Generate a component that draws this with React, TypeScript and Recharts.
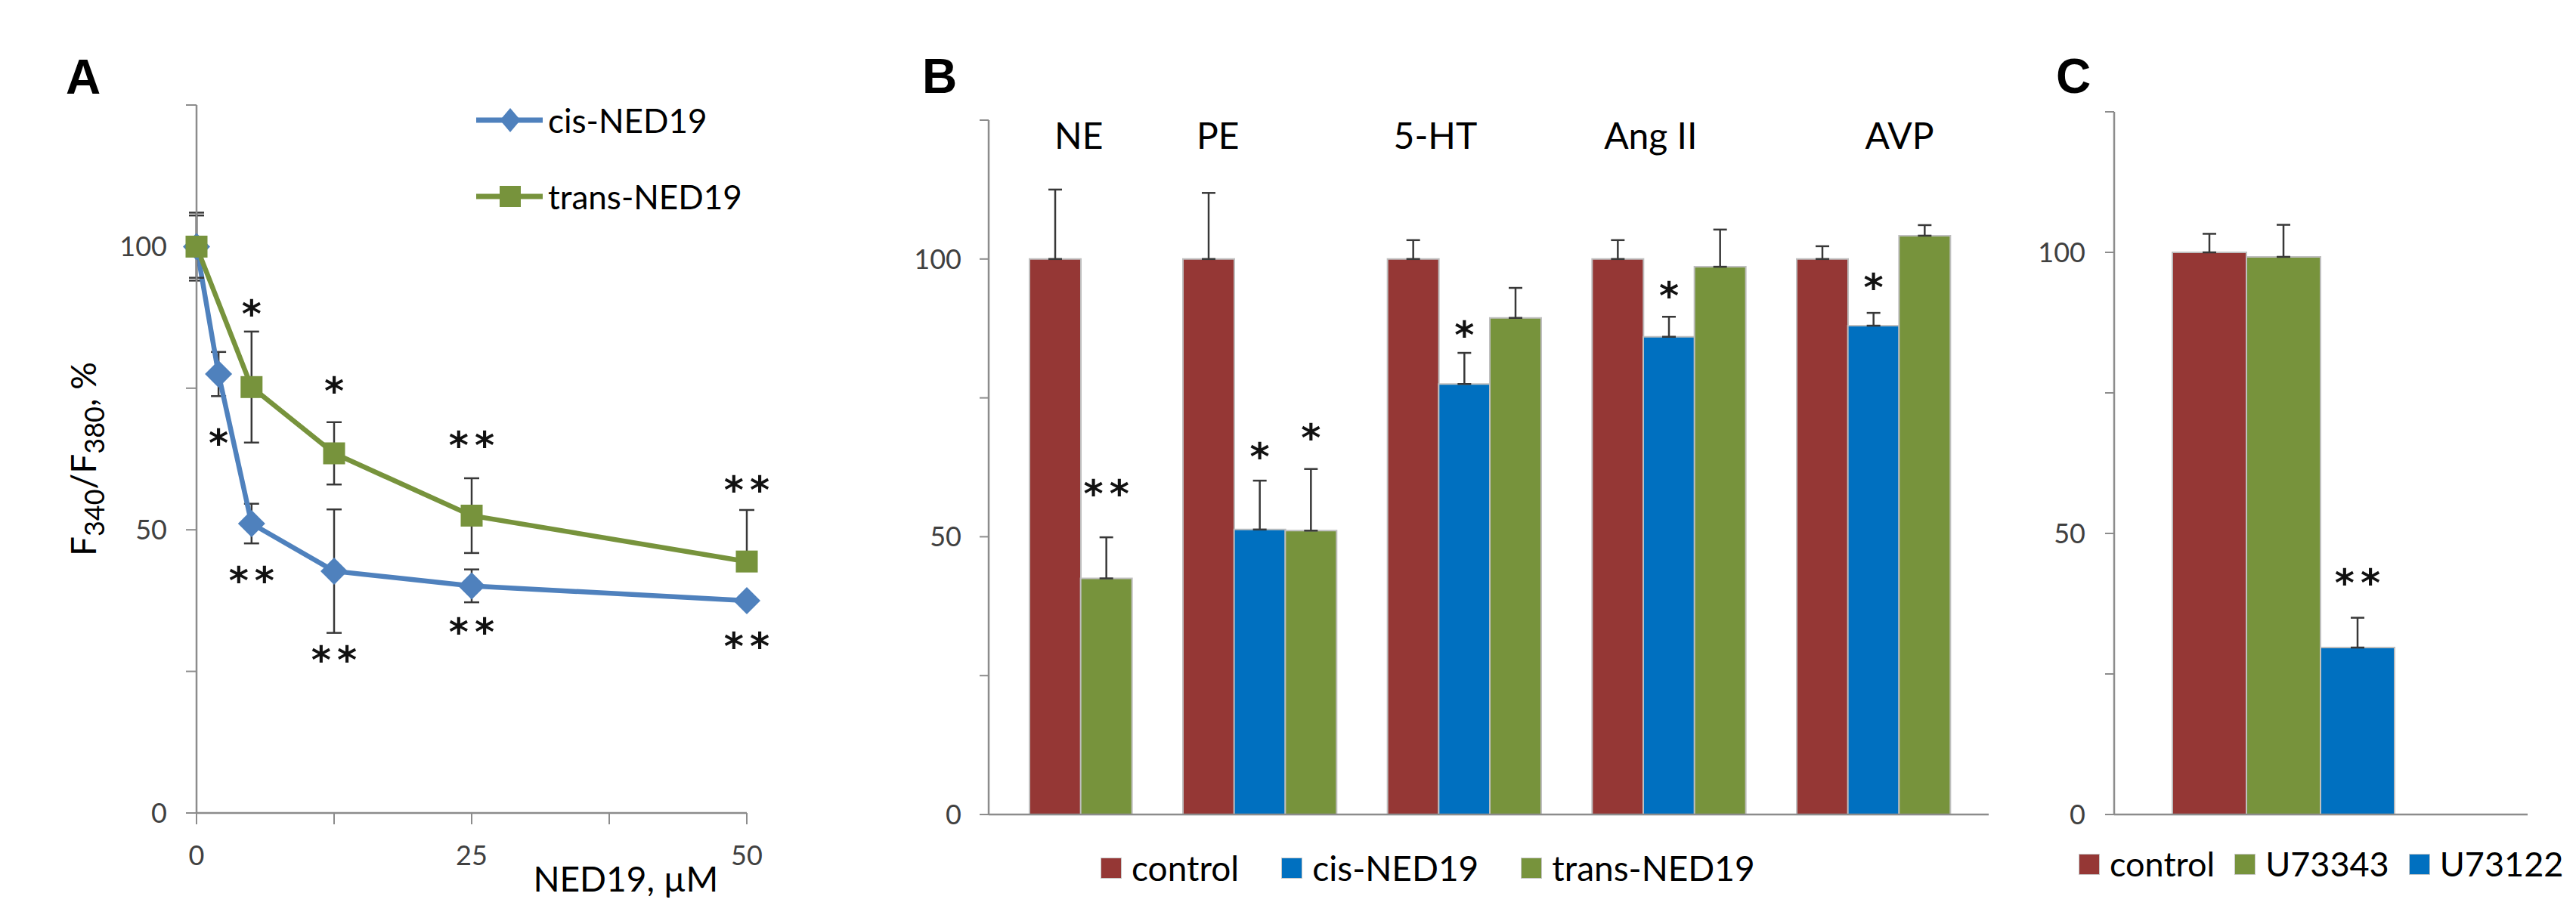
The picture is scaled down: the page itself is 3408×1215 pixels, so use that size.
import React from 'react'
import { ComposedChart, Line, Bar, Scatter, XAxis, YAxis, ErrorBar, Cell, LabelList } from 'recharts'

const RED = '#953735'
const BLUE = '#0070C0'
const GREEN = '#77933C'
const LINE_BLUE = '#4F81BD'
const AXIS = '#8C8C8C'
const ERR = '#383838'
const FONT = 'Lato, "Noto Sans", sans-serif'
const STAR_FONT = '"DejaVu Sans", sans-serif'
const STAR_SIZE = 50

// A: F340/F380 vs NED19 concentration
const DOSE_CIS = [0, 2, 5, 12.5, 25, 50]
const CIS_A = [100, 77.5, 51.1, 42.7, 40.1, 37.5]
const CIS_A_ERR = [6, 3.9, 3.5, 10.9, 2.9, 0]
const CIS_A_STAR = ['', '*', '**', '**', '**', '**']
const CIS_A_STAR_AT = [null, 66.4, 42.1, 28.2, 33.1, 30.6]

const DOSE_TRANS = [0, 5, 12.5, 25, 50]
const TRANS_A = [100, 75.2, 63.5, 52.5, 44.4]
const TRANS_A_ERR_DOWN = [5.5, 9.8, 5.5, 6.6, 0]
const TRANS_A_ERR_UP = [5.5, 9.8, 5.5, 6.6, 9.1]
const TRANS_A_STAR = ['', '*', '*', '**', '**']
const TRANS_A_STAR_AT = [null, 89.2, 75.7, 66.1, 58.2]

const X_TICKS_A = [0, 12.5, 25, 37.5, 50]
const Y_TICKS = [0, 25, 50, 75, 100, 125]

// B: agonists
const CATS_B = ['NE', 'PE', '5-HT', 'Ang II', 'AVP']
const CONTROL_B = [100, 100, 100, 100, 100]
const CONTROL_B_ERR = [12.5, 11.9, 3.4, 3.4, 2.3]
const CIS_B = [null, 51.3, 77.5, 86.0, 88.0]
const CIS_B_ERR = [null, 8.8, 5.6, 3.6, 2.3]
const CIS_B_STAR = ['', '*', '*', '*', '*']
const CIS_B_STAR_AT = [null, 65.6, 87.5, 94.5, 96]
const TRANS_B = [42.5, 51.1, 89.4, 98.6, 104.2]
const TRANS_B_ERR = [7.4, 11.1, 5.4, 6.7, 1.9]
const TRANS_B_STAR = ['**', '*', '', '', '']
const TRANS_B_STAR_AT = [58.9, 69, null, null, null]
// where each agonist name sits, in bar widths from the control bar centre
const CAT_SHIFT_B = [0.46, 0.18, 0.43, 0.64, 1.5]

// C: PLC inhibitor
const GROUPS_C = ['control', 'U73343', 'U73122']
const VALUES_C = [100, 99.2, 29.7]
const ERR_C = [3.3, 5.7, 5.3]
const STAR_C = ['', '', '**']
const STAR_C_AT = [null, null, 42.3]
const COLORS_C = [RED, GREEN, BLUE]

const SERIES_A = [
  { name: 'cis-NED19', color: LINE_BLUE, shape: 'diamond' },
  { name: 'trans-NED19', color: GREEN, shape: 'square' },
]

const SERIES_B = [
  { name: 'control', color: RED, values: CONTROL_B, err: CONTROL_B_ERR, star: [] as string[], starAt: [] as (number | null)[] },
  { name: 'cis-NED19', color: BLUE, values: CIS_B, err: CIS_B_ERR, star: CIS_B_STAR, starAt: CIS_B_STAR_AT },
  { name: 'trans-NED19', color: GREEN, values: TRANS_B, err: TRANS_B_ERR, star: TRANS_B_STAR, starAt: TRANS_B_STAR_AT },
]

const cisRows = DOSE_CIS.map((x, i) => ({ x, v: CIS_A[i], err: CIS_A_ERR[i] }))
const transRows = DOSE_TRANS.map((x, i) => ({ x, v: TRANS_A[i], err: [TRANS_A_ERR_DOWN[i], TRANS_A_ERR_UP[i]] }))
const starRowsA = [
  ...DOSE_CIS.map((x, i) => ({ x, y: CIS_A_STAR_AT[i], text: CIS_A_STAR[i] })),
  ...DOSE_TRANS.map((x, i) => ({ x, y: TRANS_A_STAR_AT[i], text: TRANS_A_STAR[i] })),
].filter((r) => r.text)

// flat table: one band per bar, empty band between agonists
const rowsB: any[] = []
CATS_B.forEach((cat, i) => {
  if (i > 0) rowsB.push({ key: `gap-${i}`, value: null, color: '#fff' })
  let first = true
  SERIES_B.forEach((s) => {
    const v = s.values[i]
    if (v == null) return
    rowsB.push({
      key: `${cat}-${s.name}`,
      value: v,
      err: [0, s.err[i]],
      color: s.color,
      starInfo: s.star[i] ? { text: s.star[i], at: s.starAt[i], v } : null,
      catInfo: first ? { text: cat, shift: CAT_SHIFT_B[i] } : null,
    })
    first = false
  })
})

const rowsC = GROUPS_C.map((g, i) => ({
  key: g,
  value: VALUES_C[i],
  err: [0, ERR_C[i]],
  color: COLORS_C[i],
  starInfo: STAR_C[i] ? { text: STAR_C[i], at: STAR_C_AT[i], v: VALUES_C[i] } : null,
}))

const fmtY = (v: number) => (v % 50 === 0 ? String(v) : '')
const fmtXA = (v: number) => (v % 25 === 0 ? String(v) : '')
const tickStyle = { fontSize: 36, fill: '#404040' }

function Diamond(p: any) {
  const { cx, cy, rx = 18, ry = 18 } = p
  if (cx == null || cy == null) return <g key={`dm-${p.index}`} />
  return <path key={`dm-${p.index}`} d={`M${cx},${cy - ry}L${cx + rx},${cy}L${cx},${cy + ry}L${cx - rx},${cy}Z`} fill={LINE_BLUE} />
}

function Square(p: any) {
  const { cx, cy, half = 14.5 } = p
  if (cx == null || cy == null) return <g key={`sq-${p.index}`} />
  return <rect key={`sq-${p.index}`} x={cx - half} y={cy - half} width={2 * half} height={2 * half} fill={GREEN} />
}

function StarText({ x, y, text }: { x: number; y: number; text: string }) {
  return (
    <text x={x + 4} y={y + 0.52 * STAR_SIZE} textAnchor="middle" fontFamily={STAR_FONT} fontWeight="bold" fontSize={STAR_SIZE} letterSpacing={8} fill="#111">
      {text}
    </text>
  )
}

function ScatterStar(p: any) {
  if (p.cx == null || p.cy == null || !p.payload?.text) return <g />
  return <StarText x={p.cx} y={p.cy} text={p.payload.text} />
}

function BarStar(p: any) {
  const info = p.value
  const vb = p.viewBox
  if (!info || !vb || !info.text) return null
  const px = vb.height / info.v
  const cy = vb.y + vb.height - info.at * px
  return <StarText x={vb.x + vb.width / 2} y={cy} text={info.text} />
}

function CatLabel(p: any) {
  const info = p.value
  const vb = p.viewBox
  if (!info || !vb) return null
  return (
    <text x={vb.x + vb.width * (0.5 + info.shift)} y={197} textAnchor="middle" fontSize={48} fill="#000">
      {info.text}
    </text>
  )
}

function YTitleA(p: any) {
  const vb = p.viewBox
  const cx = vb.x + 127
  const cy = vb.y + vb.height / 2
  return (
    <text transform={`rotate(-90 ${cx} ${cy})`} x={cx} y={cy} textAnchor="middle" fontSize={46} fill="#000">
      F<tspan fontSize={36} dy={11}>340</tspan>
      <tspan dy={-11}>/F</tspan>
      <tspan fontSize={36} dy={11}>380</tspan>
      <tspan dy={-11}>, %</tspan>
    </text>
  )
}

function XTitleA(p: any) {
  const vb = p.viewBox
  return (
    <text x={vb.x + 0.78 * vb.width} y={vb.y + 104} textAnchor="middle" fontSize={46} fill="#000">
      NED19, µM
    </text>
  )
}

function LegendA() {
  return (
    <div style={{ position: 'absolute', left: 630, top: 137, fontSize: 44, color: '#000' }}>
      {SERIES_A.map((s, i) => (
        <div key={s.name} style={{ display: 'flex', alignItems: 'center', height: 44, marginBottom: i === 0 ? 57 : 0 }}>
          <svg width={88} height={44}>
            <line x1={0} y1={22} x2={88} y2={22} stroke={s.color} strokeWidth={7} />
            {s.shape === 'diamond' ? <Diamond cx={45} cy={22} rx={13.5} ry={16} /> : <Square cx={45} cy={22} half={14} />}
          </svg>
          <span style={{ marginLeft: 7, lineHeight: 1 }}>{s.name}</span>
        </div>
      ))}
    </div>
  )
}

function BoxLegend({ items, left, top, gap, fontSize }: { items: { name: string; color: string }[]; left: number; top: number; gap: number; fontSize: number }) {
  return (
    <div style={{ position: 'absolute', left, top, display: 'flex', alignItems: 'center', fontSize, color: '#000', lineHeight: 1 }}>
      {items.map((it) => (
        <div key={it.name} style={{ display: 'flex', alignItems: 'center', marginRight: gap }}>
          <div style={{ width: 28, height: 28, background: it.color, boxShadow: 'inset 0 0 0 1px #c8c8c8' }} />
          <span style={{ marginLeft: 13 }}>{it.name}</span>
        </div>
      ))}
    </div>
  )
}

function ChartA() {
  return (
    <div style={{ position: 'absolute', left: 0, top: 0 }}>
      <ComposedChart width={1200} height={1215} margin={{ top: 139, right: 212, bottom: 79, left: 0 }}>
        <XAxis
          dataKey="x"
          type="number"
          domain={[0, 50]}
          ticks={X_TICKS_A}
          tickFormatter={fmtXA}
          tick={tickStyle}
          tickSize={15}
          tickMargin={28}
          height={60}
          axisLine={{ stroke: AXIS, strokeWidth: 2.5 }}
          tickLine={{ stroke: AXIS, strokeWidth: 2 }}
          label={{ content: XTitleA }}
        />
        <YAxis
          type="number"
          domain={[0, 125]}
          ticks={Y_TICKS}
          tickFormatter={fmtY}
          tick={tickStyle}
          tickSize={14}
          tickMargin={25}
          width={260}
          axisLine={{ stroke: AXIS, strokeWidth: 2.5 }}
          tickLine={{ stroke: AXIS, strokeWidth: 2 }}
          label={{ content: YTitleA }}
        />
        <Line data={cisRows} dataKey="v" stroke={LINE_BLUE} strokeWidth={6.5} dot={Diamond} activeDot={false} isAnimationActive={false}>
          <ErrorBar dataKey="err" direction="y" width={10} stroke={ERR} strokeWidth={2.5} />
        </Line>
        <Line data={transRows} dataKey="v" stroke={GREEN} strokeWidth={6.5} dot={Square} activeDot={false} isAnimationActive={false}>
          <ErrorBar dataKey="err" direction="y" width={10} stroke={ERR} strokeWidth={2.5} />
        </Line>
        <Scatter data={starRowsA} dataKey="y" shape={ScatterStar} isAnimationActive={false} />
      </ComposedChart>
    </div>
  )
}

function BarPanel({ rows, left, width, top, right, yWidth, padding, tickMargin, withCats }: any) {
  return (
    <div style={{ position: 'absolute', left, top: 0 }}>
      <ComposedChart width={width} height={1215} data={rows} margin={{ top, right, bottom: 127, left: 0 }} barCategoryGap={0} barGap={0}>
        <XAxis dataKey="key" type="category" tick={false} tickLine={false} height={10} padding={padding} axisLine={{ stroke: AXIS, strokeWidth: 2.5 }} />
        <YAxis
          type="number"
          domain={[0, 125]}
          ticks={Y_TICKS}
          tickFormatter={fmtY}
          tick={tickStyle}
          tickSize={12}
          tickMargin={tickMargin}
          width={yWidth}
          axisLine={{ stroke: AXIS, strokeWidth: 2.5 }}
          tickLine={{ stroke: AXIS, strokeWidth: 2 }}
        />
        <Bar dataKey="value" stroke="#BFBFBF" strokeWidth={2} isAnimationActive={false}>
          {rows.map((r: any) => (
            <Cell key={r.key} fill={r.color} />
          ))}
          <ErrorBar dataKey="err" direction="y" width={9} stroke={ERR} strokeWidth={2.5} />
          <LabelList dataKey="starInfo" content={BarStar} />
          {withCats && <LabelList dataKey="catInfo" content={CatLabel} />}
        </Bar>
      </ComposedChart>
    </div>
  )
}

export default function App() {
  return (
    <div style={{ position: 'absolute', left: 0, top: 0, width: 3408, height: 1215, background: '#fff', fontFamily: FONT, overflow: 'hidden' }}>
      <ChartA />
      <LegendA />
      <BarPanel rows={rowsB} left={1200} width={1500} top={159} right={69} yWidth={108} padding={{ left: 54, right: 51 }} tickMargin={24} withCats />
      <BoxLegend items={SERIES_B} left={1456} top={1126} gap={56} fontSize={46} />
      <BarPanel rows={rowsC} left={2680} width={728} top={148} right={64} yWidth={117} padding={{ left: 77, right: 176 }} tickMargin={26} />
      <BoxLegend items={GROUPS_C.map((g, i) => ({ name: g, color: COLORS_C[i] }))} left={2750} top={1121} gap={26} fontSize={45} />
      <svg width={3408} height={1215} style={{ position: 'absolute', left: 0, top: 0, pointerEvents: 'none' }}>
        <text x={87} y={124} fontFamily='"Liberation Sans", Arial, sans-serif' fontWeight="bold" fontSize={64} fill="#000">A</text>
        <text x={1220} y={123} fontFamily='"Liberation Sans", Arial, sans-serif' fontWeight="bold" fontSize={64} fill="#000">B</text>
        <text x={2720} y={123} fontFamily='"Liberation Sans", Arial, sans-serif' fontWeight="bold" fontSize={64} fill="#000">C</text>
      </svg>
    </div>
  )
}
